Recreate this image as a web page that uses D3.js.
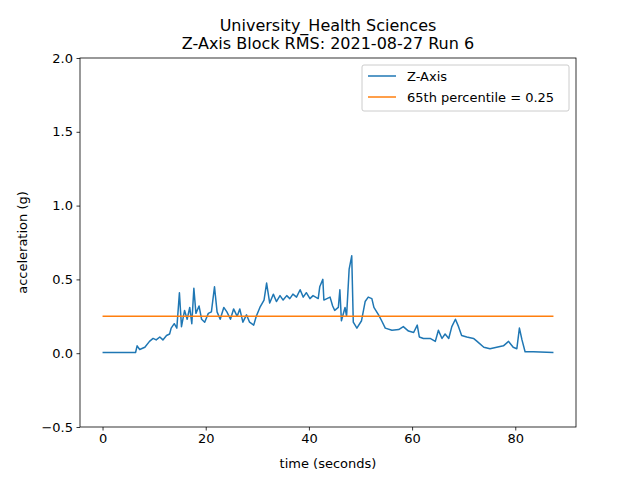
<!DOCTYPE html>
<html>
<head>
<meta charset="utf-8">
<script src="https://cdn.jsdelivr.net/npm/d3@7"></script>
<style>
  body { margin: 0; background: #fff; }
  text { font-family: "DejaVu Sans", sans-serif; }
</style>
</head>
<body>
<div id="chart"></div>
<script>
// time (s) and z-axis block RMS (g)
var times = [0, 6.4, 6.7, 7.2, 8.2, 9.1, 9.8, 10.4, 11.1, 11.7, 12.4, 13.0, 13.3, 13.9, 14.4, 14.9, 15.3,
    15.9, 16.4, 16.9, 17.3, 17.7, 18.1, 18.7, 19.2, 19.8, 20.5, 21.1, 21.7, 22.2, 22.8, 23.5, 24.1,
    24.8, 25.4, 26.1, 26.6, 27.2, 27.9, 28.5, 29.3, 29.8, 30.5, 31.3, 31.8, 32.4, 33.1, 33.7, 34.4,
    35.0, 35.7, 36.3, 36.9, 37.6, 38.3, 38.9, 39.5, 40.2, 40.8, 41.8, 42.1, 42.7, 42.9, 44.1, 44.6,
    45.0, 45.7, 46.0, 46.3, 47.0, 47.3, 47.8, 48.3, 48.6, 49.3, 50.2, 50.9, 51.5, 52.2, 52.6, 53.5,
    54.1, 54.8, 56.1, 57.4, 58.3, 59.3, 60.3, 61.0, 61.4, 62.2, 63.5, 64.5, 65.1, 65.8, 66.4, 67.1,
    67.7, 68.4, 69.0, 69.6, 70.6, 71.9, 72.6, 73.9, 75.1, 76.4, 77.7, 78.7, 79.6, 80.3, 80.8, 81.3,
    81.9, 83.5, 87.4];
var zRms = [0.005, 0.005, 0.05, 0.025, 0.04, 0.08, 0.10, 0.09, 0.11, 0.09, 0.12, 0.13, 0.17, 0.20, 0.17, 0.41, 0.18,
    0.29, 0.23, 0.31, 0.20, 0.44, 0.27, 0.32, 0.23, 0.21, 0.27, 0.28, 0.45, 0.28, 0.23, 0.31, 0.28,
    0.23, 0.30, 0.25, 0.30, 0.21, 0.26, 0.21, 0.19, 0.25, 0.31, 0.36, 0.475, 0.34, 0.40, 0.35, 0.39,
    0.36, 0.39, 0.37, 0.40, 0.38, 0.43, 0.38, 0.41, 0.37, 0.39, 0.37, 0.45, 0.50, 0.36, 0.38, 0.32,
    0.29, 0.31, 0.43, 0.22, 0.31, 0.25, 0.57, 0.66, 0.21, 0.17, 0.22, 0.35, 0.38, 0.37, 0.31, 0.26,
    0.22, 0.17, 0.155, 0.16, 0.18, 0.15, 0.14, 0.19, 0.11, 0.10, 0.10, 0.08, 0.155, 0.10, 0.13, 0.10,
    0.18, 0.23, 0.18, 0.12, 0.11, 0.10, 0.08, 0.04, 0.03, 0.04, 0.05, 0.08, 0.04, 0.03, 0.17, 0.09,
    0.01, 0.01, 0.005];
var pct65 = 0.25;
var xTicks = [0, 20, 40, 60, 80];
var yTicks = [-0.5, 0.0, 0.5, 1.0, 1.5, 2.0];
var titleLines = ["University_Health Sciences", "Z-Axis Block RMS: 2021-08-27 Run 6"];

var w = 640, h = 480;
var pLeft = 80, pRight = 576, pTop = 58, pBottom = 427;
var blue = "#1f77b4", orange = "#ff7f0e";

var svg = d3.select("#chart").append("svg").attr("width", w).attr("height", h);

var tMax = d3.max(times);
var pad = tMax * 0.05;
var x = d3.scaleLinear().domain([-pad, tMax + pad]).range([pLeft, pRight]);
var y = d3.scaleLinear().domain([-0.5, 2.0]).range([pBottom, pTop]);

var data = times.map(function(t, i) { return [t, zRms[i]]; });

svg.append("path")
    .datum(data)
    .attr("fill", "none")
    .attr("stroke", blue)
    .attr("stroke-width", 1.5)
    .attr("stroke-linejoin", "round")
    .attr("d", d3.line().x(function(d) { return x(d[0]); }).y(function(d) { return y(d[1]); }));

svg.append("line")
    .attr("x1", x(0)).attr("x2", x(tMax))
    .attr("y1", y(pct65)).attr("y2", y(pct65))
    .attr("stroke", orange).attr("stroke-width", 1.5);

var xAxis = d3.axisBottom(x).tickValues(xTicks).tickSize(3.5).tickPadding(3.5).tickFormat(d3.format("d"));
var yAxis = d3.axisLeft(y).tickValues(yTicks).tickSize(3.5).tickPadding(3.5).tickFormat(d3.format(".1f"));
function styleAxis(g) {
    g.select(".domain").remove();
    g.selectAll("line").attr("stroke", "#000").attr("stroke-width", 0.8);
    g.selectAll("text").attr("font-size", "13px").attr("fill", "#000").attr("font-family", "DejaVu Sans, sans-serif");
}
svg.append("g").attr("transform", "translate(0," + pBottom + ")").call(xAxis).call(styleAxis);
svg.append("g").attr("transform", "translate(" + pLeft + ",0)").call(yAxis).call(styleAxis);

svg.append("rect")
    .attr("x", pLeft).attr("y", pTop).attr("width", pRight - pLeft).attr("height", pBottom - pTop)
    .attr("fill", "none").attr("stroke", "#000").attr("stroke-width", 0.8);

svg.append("text").attr("x", (pLeft + pRight) / 2).attr("y", 468)
    .attr("text-anchor", "middle").attr("font-size", "13px").text("time (seconds)");
svg.append("text").attr("transform", "translate(27," + (pTop + pBottom) / 2 + ") rotate(-90)")
    .attr("text-anchor", "middle").attr("font-size", "13px").text("acceleration (g)");

titleLines.forEach(function(s, i) {
    svg.append("text").attr("x", (pLeft + pRight) / 2).attr("y", 31 + i * 18)
        .attr("text-anchor", "middle").attr("font-size", "16px").text(s);
});

// legend
var lg = svg.append("g").attr("transform", "translate(362,65)");
lg.append("rect").attr("width", 207).attr("height", 46).attr("rx", 2)
    .attr("fill", "#fff").attr("fill-opacity", 0.8).attr("stroke", "#ccc");
var items = [["Z-Axis", blue], ["65th percentile = " + pct65, orange]];
items.forEach(function(it, i) {
    var yy = 11 + i * 21;
    lg.append("line").attr("x1", 6).attr("x2", 34).attr("y1", yy).attr("y2", yy)
        .attr("stroke", it[1]).attr("stroke-width", 1.5);
    lg.append("text").attr("x", 45).attr("y", yy + 5).attr("font-size", "13px").text(it[0]);
});
</script>
</body>
</html>
